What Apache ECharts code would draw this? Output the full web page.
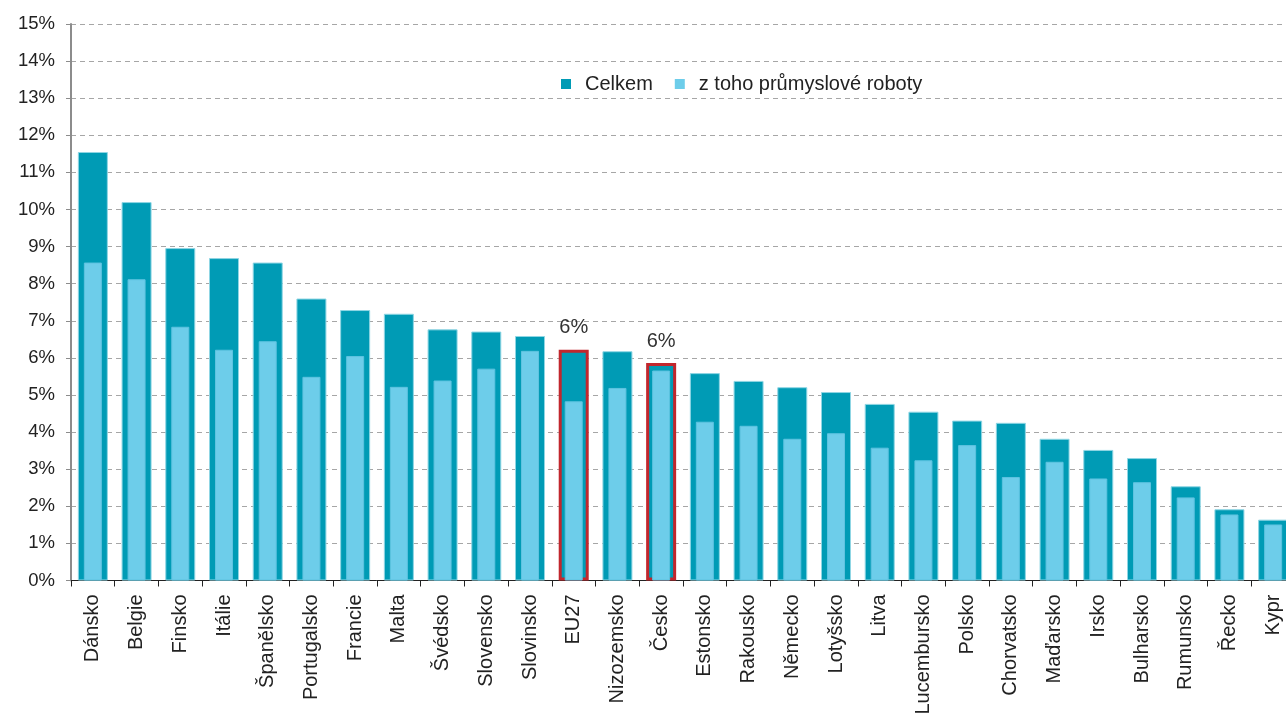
<!DOCTYPE html>
<html>
<head>
<meta charset="utf-8">
<script src="https://cdn.jsdelivr.net/npm/echarts@6/dist/echarts.min.js"></script>
<style>html,body{margin:0;padding:0;background:#fff;overflow:hidden;width:1286px;height:720px}#c{width:1295px;height:720px}</style>
</head>
<body>
<div id="c"></div>
<script>
const categories = ["Dánsko","Belgie","Finsko","Itálie","Španělsko","Portugalsko","Francie","Malta","Švédsko","Slovensko","Slovinsko","EU27","Nizozemsko","Česko","Estonsko","Rakousko","Německo","Lotyšsko","Litva","Lucembursko","Polsko","Chorvatsko","Maďarsko","Irsko","Bulharsko","Rumunsko","Řecko","Kypr"];
const celkem = [11.55,10.2,8.96,8.69,8.57,7.6,7.29,7.19,6.77,6.71,6.59,6.22,6.18,5.86,5.59,5.38,5.21,5.08,4.76,4.55,4.31,4.25,3.82,3.52,3.3,2.54,1.92,1.64];
const roboty = [8.57,8.12,6.84,6.22,6.45,5.49,6.05,5.22,5.39,5.71,6.19,4.83,5.19,5.66,4.28,4.17,3.82,3.97,3.58,3.24,3.65,2.79,3.2,2.75,2.65,2.24,1.78,1.51];
const highlighted = ["EU27","Česko"];
const highlightLabel = "6%";
const yTicks = [0,1,2,3,4,5,6,7,8,9,10,11,12,13,14,15];

const DARK = '#009BB5', LIGHT = '#6DCDEA', RED = '#C1272D';
const font = 'Liberation Sans, Arial, sans-serif';

const darkData = celkem.map((v, i) => {
  if (highlighted.includes(categories[i])) {
    return {
      value: v,
      itemStyle: { borderColor: RED, borderWidth: 3 },
      label: { show: true, position: 'top', distance: 12, formatter: highlightLabel, fontSize: 20, color: '#333', fontFamily: font }
    };
  }
  return v;
});

const chart = echarts.init(document.getElementById('c'));
chart.setOption({
  animation: false,
  textStyle: { fontFamily: font },
  legend: {
    top: 69, left: 556,
    itemWidth: 10, itemHeight: 10, itemGap: 22,
    icon: 'rect',
    itemStyle: { borderWidth: 0 },
    textStyle: { fontSize: 20, color: '#222', fontFamily: font, padding: [0, 0, 0, 9] },
    data: ['Celkem', 'z toho průmyslové roboty']
  },
  grid: { left: 71, right: 0, top: 24, bottom: 139.5, containLabel: false },
  xAxis: [
    {
      type: 'category', data: categories, boundaryGap: true,
      axisLine: { lineStyle: { color: '#222', width: 1 } },
      axisTick: { show: true, length: 6, lineStyle: { color: '#222' } },
      axisLabel: { rotate: 90, fontSize: 20, color: '#222', margin: 14, interval: 0, fontFamily: font }
    },
    {
      type: 'category', data: categories, boundaryGap: true, show: false
    }
  ],
  yAxis: {
    type: 'value', min: 0, max: 15, interval: 1,
    axisLine: { show: true, lineStyle: { color: '#8c8c8c', width: 2 } },
    axisTick: { show: true, length: 5, lineStyle: { color: '#8c8c8c' } },
    axisLabel: { formatter: v => yTicks.includes(v) ? v + '%' : '', fontSize: 18.5, color: '#222', margin: 16, fontFamily: font },
    splitLine: { show: true, lineStyle: { color: '#a6a6a6', type: [5, 4], width: 1 } }
  },
  series: [
    {
      name: 'Celkem', type: 'bar', xAxisIndex: 0, barWidth: 30,
      data: darkData,
      itemStyle: { color: DARK, borderColor: '#8fd6e4', borderWidth: 1 }
    },
    {
      name: 'z toho průmyslové roboty', type: 'bar', xAxisIndex: 1, barWidth: 18,
      data: roboty,
      itemStyle: { color: LIGHT, borderColor: '#5ec3e0', borderWidth: 1 }
    }
  ]
});
</script>
</body>
</html>
